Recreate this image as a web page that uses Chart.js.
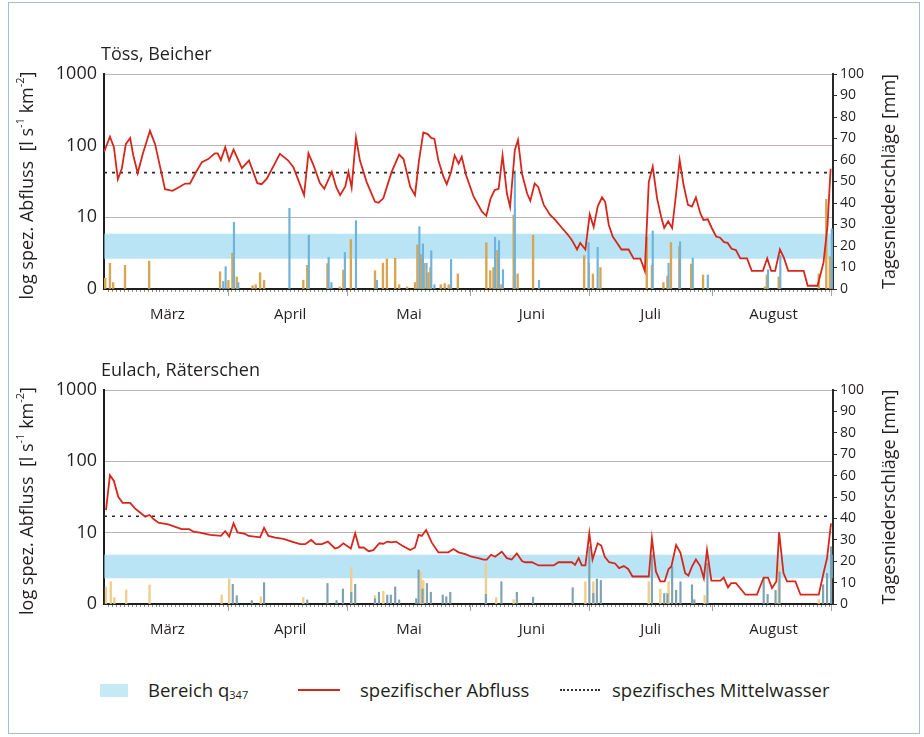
<!DOCTYPE html>
<html>
<head>
<meta charset="utf-8">
<script src="https://cdn.jsdelivr.net/npm/chart.js@4.4.1/dist/chart.umd.min.js"></script>
<style>
  body { margin: 0; background: #fff; font-family: "Open Sans", sans-serif; color: #231f20; }
  #frame { position: absolute; left: 8px; top: 2px; width: 912px; height: 732px; border: 1.5px solid #a9bccd; box-sizing: border-box; }
  .box { position: absolute; left: 0; width: 924px; height: 300px; }
  .lg { position: absolute; font-size: 18.5px; line-height: 20px; top: 680px; white-space: nowrap; }
  .lg sub { font-size: 11px; vertical-align: -2px; }
</style>
</head>
<body>
<div id="frame"></div>
<div class="box" style="top:40px"><canvas id="toess" width="924" height="300"></canvas></div>
<div class="box" style="top:355px"><canvas id="eulach" width="924" height="300"></canvas></div>

<div style="position:absolute;left:100px;top:684px;width:28px;height:13px;background:#c6e9f6"></div>
<div class="lg" style="left:148px">Bereich q<sub>347</sub></div>
<div style="position:absolute;left:298px;top:689px;width:42px;height:2px;background:#d6271d"></div>
<div class="lg" style="left:360px">spezifischer Abfluss</div>
<div style="position:absolute;left:560px;top:689px;width:40px;border-top:2px dotted #333"></div>
<div class="lg" style="left:612px">spezifisches Mittelwasser</div>

<script>
// x axis: day 0 = left edge (end of February), 184 = end of August
const monthNames = ["März", "April", "Mai", "Juni", "Juli", "August"];
const monthMid = [16, 47, 77, 108, 138, 169];
const monthStart = [0, 32, 62, 93, 123, 154, 184];
const logTicks = [1, 10, 100, 1000];

// Töss, Beicher — specific discharge [day, l/s/km2]
const toessQ = [[0,81],[1.5,133],[2.5,95],[3.5,34],[4.5,48],[5.5,105],[6.6,128],[7.4,73],[8.5,41.5],[9.8,77],
  [11.6,161],[12.9,105],[15.4,24.7],[17.3,23.4],[18.8,26],[20.5,29.6],[21.7,29.6],[23,40.6],[24.7,59],[26.3,65],
  [28,78],[28.7,78],[29.5,63],[30.6,95],[31.6,62],[32.7,88],[34.8,48.6],[36.6,62],[38.7,30],[39.8,29],[41.1,34.7],
  [44.4,77],[46.5,62],[47.8,50],[50.5,20.4],[51.6,78],[52.9,53],[54.5,30],[55.6,25],[57.5,43],[58.6,26.6],[59.6,20.4],
  [60.9,27],[61.7,43],[62.5,26],[63.6,130],[64.6,62],[66.3,31],[68.4,16.5],[69.3,16],[70.5,18.4],[72.6,43],[74.5,75],
  [75.6,65],[77.3,26.6],[78.5,20.4],[79.5,62],[80.6,153],[81.7,145],[82.6,128],[83.4,124],[84.4,62],[85.7,36.6],
  [86.5,29],[87.6,43],[88.5,73],[89.5,56],[90.3,70],[91.4,38.6],[93.3,19.4],[95.4,12],[96.5,10.5],[97.6,18.4],
  [98.6,24],[99.6,25],[100.6,73],[101.7,21.5],[102.5,14],[103.7,87],[104.5,120],[105.5,40.6],[106.8,21.5],[107.6,17],
  [108.7,29.6],[109.6,26.6],[111,14.9],[112.6,10.8],[113.9,9.2],[115.6,7.1],[117.1,5.7],[118.1,4.8],[119.4,3.56],
  [120.2,4.4],[121.5,3.56],[122.6,11],[123.6,7.3],[124.6,14.1],[125.7,19],[126.5,16.5],[127.4,7.9],[128.4,5.4],
  [129.5,4.4],[130.6,3.56],[132.4,3.56],[133.7,2.65],[135.4,2.65],[136.5,1.79],[137.5,31],[138.5,51],[139.6,18.4],
  [140.6,10.3],[141.4,7.1],[142.4,8.8],[143.4,7.1],[144.4,21.5],[145.3,63],[146.3,28],[147.4,14.9],[148.4,14.1],
  [149.4,19],[150.5,11.4],[151.3,9.2],[152.4,9.4],[153.4,7.1],[154.5,5.4],[155.5,5.2],[156.5,4.5],[157.4,4.4],
  [158.4,3.64],[159.5,3.49],[160.6,2.68],[162.3,2.68],[163.5,1.79],[166.3,1.79],[167.4,2.68],[168.4,1.79],[169.4,1.79],
  [170.6,3.56],[171.6,2.74],[172.7,1.79],[176.6,1.79],[177.6,1.11],[180.1,1.11],[181.6,2.33],[182.6,7.5],[183.4,47.6]];
const toessMean = 42;
const toessQ347 = [2.65, 5.9];
// daily precipitation [day, mm], two stations
const toessRainA = [[0.3,5],[1.5,12],[2.3,3],[5.3,11],[11.4,13],[29.3,8],[31.4,4],[32.4,16.7],[33.5,5.6],[37.5,1.5],
  [38.3,2],[39.4,7.6],[40.4,4],[50.3,4],[51.3,11],[56.4,11.8],[59.5,1],[60.4,8.8],[62.3,23],[68.4,8.5],[70.4,12],
  [71.4,14],[73.5,14.3],[74.5,2],[76.5,1],[78.5,3],[79.1,20.5],[80,16],[80.8,12],[81.9,7.6],[82.4,10],[85,2],[86,2.5],
  [87,2],[89.3,7],[96.5,21.5],[97.5,8.5],[98.3,10],[99.3,18],[100.3,2],[103.4,34.4],[104.4,7],[108.3,25],[121.2,15.5],
  [122.4,12],[123.4,7],[125.3,10],[137,24],[138.3,11],[141.2,3],[142.2,6],[143.1,21.6],[145.2,19.7],[148.2,11.6],
  [151.2,6.5],[166.8,1],[167.3,6.5],[170.3,5.6],[180.4,7],[182.3,41.7],[183.2,15]];
const toessRainB = [[30.1,3.5],[30.7,10.4],[32.8,31],[33.9,3],[46.8,37.5],[51.7,25],[56.7,14.7],[57.4,3],[60.8,17],
  [63.6,31.8],[68.9,4],[79.6,29],[80.5,21],[81.4,12],[82.6,17.8],[83.4,2],[87.6,13.8],[98.7,24],[99.7,22.5],[100.7,9],
  [103.7,55],[109.8,4],[122.3,21.6],[124.6,19.4],[138.5,27],[142.5,12],[145.4,22],[148.6,14.4],[152.4,6.5],[167.6,9],
  [170.7,15.5],[183.7,28]];

// Eulach, Räterschen
const eulachQ = [[0.5,20.7],[1.5,64],[2.5,53],[3.6,31.8],[4.7,26.2],[6.6,26.2],[7.8,21.9],[9.1,19.2],[10.4,16.7],
  [11.5,17.7],[12.5,15.5],[13.7,13.8],[16.2,13.1],[19.6,11.2],[21.5,11.2],[22.6,10.3],[24.2,10],[26.8,9.3],[29.5,9],
  [30.6,10.5],[31.6,8.8],[32.7,13.5],[33.7,10.1],[35.6,9.6],[36.5,9],[39.4,8.6],[40.4,11.7],[41.5,9],[43.2,8.5],
  [45.3,8.2],[47.4,7.5],[49.5,6.9],[50.8,6.9],[52.3,7.9],[53.5,6.9],[55,6.9],[56.5,7.5],[58.3,6],[59.2,6.2],[60.4,7.1],
  [62.3,6],[63.4,9.8],[64.4,6.2],[65.5,6.2],[66.8,5.5],[68,5.7],[69.5,7.1],[70.5,7],[71.5,7.5],[72.6,7.3],[73.7,7.5],
  [75.2,6.6],[77.3,5.7],[78.5,6.2],[79.4,9.3],[80.2,9],[81.3,10.9],[82.7,7.3],[84.4,5.3],[86.9,5.3],[88.2,5.9],
  [89.5,5.3],[91.2,5],[92.8,4.6],[94.5,4.4],[95.8,4.2],[96.6,4.2],[97.7,4.9],[98.7,4.6],[100.4,5.4],[101.7,4.4],
  [102.9,4.2],[104.2,5.1],[105.5,4],[106.3,3.85],[108,3.85],[109.7,3.47],[113.5,3.47],[114.7,3.85],[118.1,3.85],
  [118.9,3.54],[119.8,4.4],[120.6,3.47],[121.5,3.47],[122.5,9.8],[123.3,4.2],[124.6,7.1],[125.5,6.6],[126.4,4.6],
  [127.5,3.85],[129,3.7],[130,3.18],[131.2,3.4],[132.3,3.1],[133.4,2.43],[137.5,2.43],[138.3,8.3],[139.3,2.86],
  [140.4,2.07],[141.5,2.07],[142.5,3.1],[143.2,3.35],[144.4,6.7],[145.5,5.2],[146.7,2.71],[147.5,2.51],[148.4,3.35],
  [149.4,4.2],[150.5,3.4],[151.4,2.3],[152.2,5.7],[153.3,2.12],[155.6,2.12],[156.4,2.35],[157.5,1.71],[158.3,1.96],
  [159.5,1.96],[161.9,1.35],[164.8,1.35],[166.5,2.35],[167.6,2.35],[168.6,1.67],[169.7,2.07],[170.4,10.1],[171.5,2.71],
  [172.4,2.07],[174.5,2.07],[175.8,1.35],[180.4,1.35],[181.7,2.86],[182.5,4.4],[183.5,13.5]];
const eulachMean = 17;
const eulachQ347 = [2.3, 4.9];
const eulachRainA = [[0.5,8],[1.7,10.4],[2.6,3],[5.6,6.5],[11.5,8.9],[29.7,4.2],[31.6,11.7],[39.6,3.4],[50.3,3],
  [62.4,17],[68.4,3.9],[70.5,6],[80,15],[80.6,11],[96.4,19],[99,3],[103.4,2],[121.5,10.4],[123.5,10.4],[137.5,10.4],
  [140.4,7],[142.5,10.4],[151.6,4],[170.3,19],[180.4,2]];
const eulachRainB = [[32.5,9.2],[33.5,3.9],[37.3,1.6],[40.4,10],[51.3,1.9],[56.4,9.6],[58.7,1.6],[60.3,7],[62.4,5.5],
  [63.4,9.2],[68.4,2.5],[69.4,5.5],[71.5,4.2],[72.4,4.2],[73.5,8],[74.5,1.9],[78.8,2.5],[79.4,15.9],[80.4,7],[81.5,9.6],
  [82.5,5.5],[85.5,4.2],[86.4,3.4],[87.4,5.5],[96.4,4.5],[100.3,10.4],[104.2,5.5],[108.3,3.2],[118.3,7.6],[122.5,26.8],
  [123.5,5],[124.4,11.7],[125.4,11],[138.3,23],[141.4,4.9],[142.2,4.9],[143.4,17.4],[144.4,6.4],[145.5,10.4],[148.4,9],
  [149,2],[152.3,19],[166.5,12],[167.5,4.5],[169.5,6.4],[170.5,15],[181.5,9],[182.5,14.3],[183.5,26.8]];

const textColor = "#231f20";
const xy = (arr) => arr.map(([x, y]) => ({ x, y }));

function drawRich(ctx, parts, cx, cy, size) {
  ctx.save();
  ctx.translate(cx, cy);
  ctx.rotate(-Math.PI / 2);
  ctx.textBaseline = "middle";
  ctx.textAlign = "left";
  const fontFor = (sup) => (sup ? Math.round(size * 0.6) : size) + 'px "Open Sans"';
  let total = 0;
  const widths = parts.map(([t, sup]) => { ctx.font = fontFor(sup); const w = ctx.measureText(t).width; total += w; return w; });
  let x = -total / 2;
  parts.forEach(([t, sup], i) => {
    ctx.font = fontFor(sup);
    ctx.fillText(t, x, sup ? -size * 0.38 : 0);
    x += widths[i];
  });
  ctx.restore();
}

const decor = {
  id: "decor",
  afterDraw(chart, args, opts) {
    const { ctx, chartArea: a, scales } = chart;
    ctx.save();
    // small daily ticks under the time axis
    ctx.strokeStyle = "#8c8c8c";
    ctx.lineWidth = 1;
    for (let d = 1; d < 184; d++) {
      const x = Math.round(scales.x.getPixelForValue(d)) + 0.5;
      ctx.beginPath();
      ctx.moveTo(x, a.bottom + 1);
      ctx.lineTo(x, a.bottom + 3);
      ctx.stroke();
    }
    ctx.fillStyle = textColor;
    ctx.font = '18px "Open Sans"';
    ctx.textBaseline = "middle";
    ctx.textAlign = "left";
    ctx.fillText(opts.title, a.left - 3, a.top - 19);
    const midY = (a.top + a.bottom) / 2 + 4;
    drawRich(ctx, [["log spez. Abfluss  [l s", 0], ["-1", 1], [" km", 0], ["-2", 1], ["]", 0]], 28, midY, 18);
    drawRich(ctx, [["Tagesniederschläge [mm]", 0]], 890, midY - 4, 18);
    ctx.restore();
  }
};

function makeChart(id, title, q, mean, q347, rainA, rainB, colA, colB, padTop) {
  return new Chart(document.getElementById(id), {
    type: "line",
    plugins: [decor],
    data: {
      datasets: [
        { type: "line", data: xy(q), borderColor: "#d6271d", borderWidth: 1.8, pointRadius: 0, tension: 0, yAxisID: "y", order: 1 },
        { type: "line", data: [{ x: 0, y: mean }, { x: 184, y: mean }], borderColor: "#2a2a2a", borderWidth: 1.6,
          borderDash: [3, 5], pointRadius: 0, yAxisID: "y", order: 2 },
        { type: "bar", data: xy(rainA), backgroundColor: colA, barThickness: 1.7, grouped: false, yAxisID: "y2", order: 4 },
        { type: "bar", data: xy(rainB), backgroundColor: colB, barThickness: 1.5, grouped: false, yAxisID: "y2", order: 3 },
        { type: "line", data: [{ x: 0, y: q347[0] }, { x: 184, y: q347[0] }], borderWidth: 0, pointRadius: 0,
          fill: false, yAxisID: "y", order: 10 },
        { type: "line", data: [{ x: 0, y: q347[1] }, { x: 184, y: q347[1] }], borderWidth: 0, pointRadius: 0,
          fill: "-1", backgroundColor: "rgba(140, 212, 240, 0.62)", yAxisID: "y", order: 9 }
      ]
    },
    options: {
      responsive: false,
      animation: false,
      devicePixelRatio: 1,
      layout: { padding: { top: padTop, left: 0, right: 0, bottom: 0 } },
      plugins: { legend: { display: false }, tooltip: { enabled: false }, decor: { title } },
      scales: {
        x: {
          type: "linear", min: 0, max: 184, offset: false,
          afterBuildTicks: (s) => { s.ticks = Array.from({ length: 185 }, (_, i) => ({ value: i })); },
          afterFit: (s) => { s.height = 51; },
          ticks: {
            autoSkip: false, maxRotation: 0, padding: 10, color: textColor,
            font: { family: "Open Sans", size: 15 },
            callback: (v) => { const i = monthMid.indexOf(v); return i >= 0 ? monthNames[i] : ""; }
          },
          grid: {
            drawOnChartArea: false, drawTicks: true, tickLength: 7,
            tickColor: (c) => (c.tick && monthStart.includes(c.tick.value) ? "#a3a3a3" : "rgba(0,0,0,0)")
          },
          border: { color: "#1e1e1e", width: 2 }
        },
        y: {
          type: "logarithmic", position: "left", min: 1, max: 1000,
          afterBuildTicks: (s) => { s.ticks = logTicks.map((v) => ({ value: v })); },
          afterFit: (s) => { s.width = 104; },
          ticks: {
            padding: 7, color: textColor, font: { family: "Open Sans", size: 18 },
            callback: (v) => (v === 1 ? "0" : String(v))
          },
          grid: { drawTicks: false, color: (c) => (c.tick && c.tick.value === 1 ? "rgba(0,0,0,0)" : "#c2afaf"), lineWidth: 1 },
          border: { color: "#1e1e1e", width: 2 }
        },
        y2: {
          type: "linear", position: "right", min: 0, max: 100,
          afterFit: (s) => { s.width = 91; },
          ticks: { stepSize: 10, padding: 3, color: textColor, font: { family: "Open Sans", size: 14 } },
          grid: { drawOnChartArea: false, drawTicks: true, tickLength: 4, tickColor: "#333" },
          border: { color: "#2a2a2a", width: 2 }
        }
      }
    }
  });
}

makeChart("toess", "Töss, Beicher", toessQ, toessMean, toessQ347, toessRainA, toessRainB, "#d9a551", "#6fb3da", 34);
makeChart("eulach", "Eulach, Räterschen", eulachQ, eulachMean, eulachQ347, eulachRainA, eulachRainB, "#efcd8c", "#7ea3b0", 35);
</script>
</body>
</html>
